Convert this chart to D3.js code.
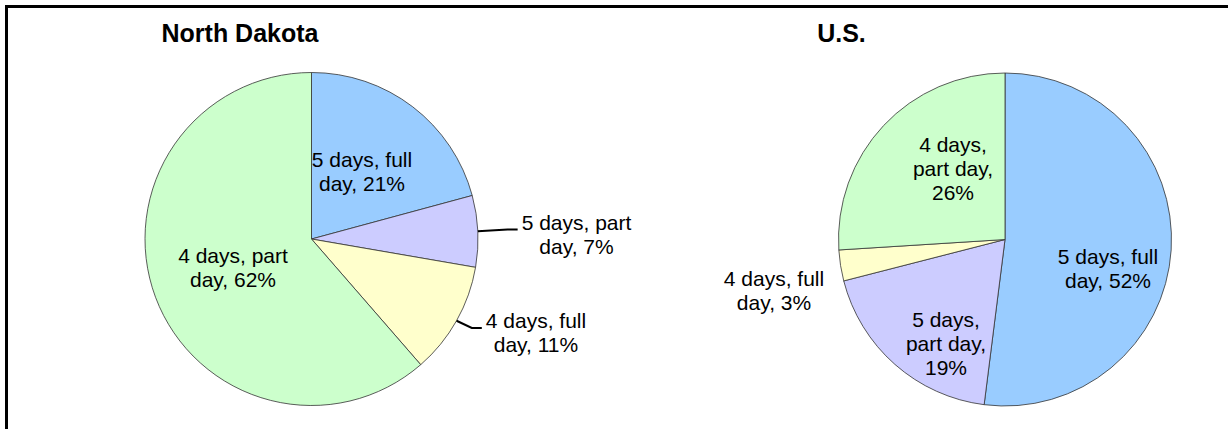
<!DOCTYPE html>
<html>
<head>
<meta charset="utf-8">
<script src="https://cdn.jsdelivr.net/npm/d3@7"></script>
<style>
  body { margin: 0; background: #fff; }
  svg { display: block; font-family: "Liberation Sans", Arial, sans-serif; }
</style>
</head>
<body>
<div id="chart"></div>
<script>
// categories, in clockwise order from 12 o'clock
const categories = ["5 days, full day", "5 days, part day", "4 days, full day", "4 days, part day"];
const northDakota = [21, 7, 11, 62];
const unitedStates = [52, 19, 3, 26];
const sliceColors = ["#99CCFF", "#CCCCFF", "#FFFFCC", "#CCFFCC"];

// label placement (relative to pie centre) and line breaks (words per line)
const ndLabels = [
  {dx: 50.5, dy: -72, words: [3, 2]},
  {dx: 265, dy: -9.5, words: [3, 2], leader: true},
  {dx: 224.5, dy: 89, words: [3, 2], leader: true},
  {dx: -78.5, dy: 24, words: [3, 2]}
];
const usLabels = [
  {dx: 103, dy: 24, words: [3, 2]},
  {dx: -59, dy: 87, words: [2, 2, 1]},
  {dx: -231, dy: 46.5, words: [3, 2]},
  {dx: -52, dy: -88, words: [2, 2, 1]}
];

const width = 1228, height = 429;
const radius = 166.5;
const lineH = 24;

const svg = d3.select("#chart").append("svg")
  .attr("width", width)
  .attr("height", height);

// outer frame (runs off the right and bottom edge)
svg.append("rect")
  .attr("x", 6.5).attr("y", 6.5)
  .attr("width", width + 20).attr("height", height + 20)
  .attr("fill", "none")
  .attr("stroke", "#000")
  .attr("stroke-width", 3);

const pie = d3.pie().sort(null).value(d => d);
const arc = d3.arc().innerRadius(0).outerRadius(radius);

function drawPie(title, values, labels, cx, cy, titleX) {
  svg.append("text")
    .attr("x", titleX).attr("y", 42)
    .attr("text-anchor", "middle")
    .attr("font-size", 25)
    .attr("font-weight", "bold")
    .text(title);

  const g = svg.append("g").attr("transform", `translate(${cx},${cy})`);
  const arcs = pie(values);

  g.selectAll("path")
    .data(arcs)
    .join("path")
    .attr("d", arc)
    .attr("fill", (d, i) => sliceColors[i])
    .attr("stroke", "#333")
    .attr("stroke-width", 0.8);

  arcs.forEach((d, i) => {
    const lab = labels[i];
    const words = `${categories[i]}, ${values[i]}%`.split(" ");
    const lines = [];
    let k = 0;
    lab.words.forEach(n => { lines.push(words.slice(k, k + n).join(" ")); k += n; });

    const t = g.append("text")
      .attr("text-anchor", "middle")
      .attr("font-size", 21)
      .attr("fill", "#000");
    lines.forEach((s, j) => {
      t.append("tspan").attr("x", lab.dx).attr("y", lab.dy + j * lineH).text(s);
    });

    if (lab.leader) {
      const firstW = t.select("tspan").node().getComputedTextLength();
      const ex = lab.dx - firstW / 2 - 4, ey = lab.dy;
      const a = (d.startAngle + d.endAngle) / 2;
      const sx = radius * Math.sin(a), sy = -radius * Math.cos(a);
      g.append("path")
        .attr("d", d3.line()([[sx, sy], [ex - 10, ey], [ex, ey]]))
        .attr("fill", "none")
        .attr("stroke", "#000")
        .attr("stroke-width", 2);
    }
  });
}

drawPie("North Dakota", northDakota, ndLabels, 311.5, 239, 240);
drawPie("U.S.", unitedStates, usLabels, 1005, 239.5, 841.5);
</script>
</body>
</html>
